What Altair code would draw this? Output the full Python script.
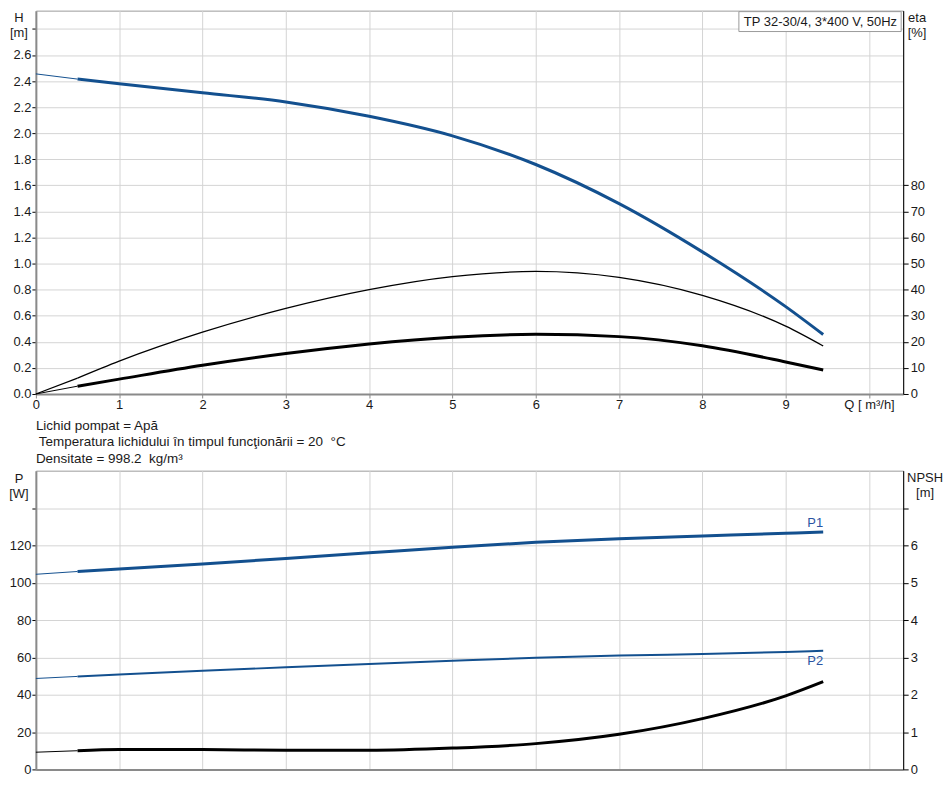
import altair as alt
import pandas as pd

# ---------------- data ----------------
Q = [0, 0.5, 1, 2, 3, 4, 5, 6, 7, 8, 9, 9.45]
H = [2.455, 2.415, 2.38, 2.31, 2.24, 2.13, 1.98, 1.76, 1.46, 1.09, 0.67, 0.456]
ETA_PUMP = [0, 6.1, 12.6, 23.7, 32.8, 40.0, 45.0, 47.0, 44.7, 37.8, 26.0, 18.4]
ETA_TOTAL = [0, 3.0, 5.7, 11.0, 15.5, 19.2, 21.8, 22.9, 22.0, 18.5, 12.3, 9.2]
P1 = [104.5, 106, 107.3, 110, 113, 116, 119, 121.6, 123.5, 125, 126.5, 127.1]
P2 = [48.7, 49.8, 50.8, 52.8, 54.7, 56.5, 58.2, 59.8, 61, 61.8, 62.9, 63.5]
NPSH = [0.46, 0.5, 0.53, 0.53, 0.51, 0.51, 0.57, 0.69, 0.94, 1.36, 1.97, 2.35]

Q_TICKS = list(range(0, 11))
H_TICKS = [round(0.2 * i, 1) for i in range(15)]
ETA_TICKS = list(range(0, 90, 10))
P_TICKS = list(range(0, 160, 20))
NPSH_TICKS = list(range(0, 8))

INFO_LINES = ["Lichid pompat = Apă",
              "Temperatura lichidului în timpul funcţionării = 20\u00a0 °C",
              "Densitate = 998.2\u00a0 kg/m³"]
PUMP_NAME = "TP 32-30/4, 3*400 V, 50Hz"

BLUE = "#13508f"
BLACK = "#000000"
LABEL = "#1a1a1a"
GRID = "#d4d4d4"
AXGRAY = "#8a8a8a"
FONT = "Liberation Sans"
FS = 13


def curve_rows(name, values, color, thick, thin_ext=True, thin=1.0):
    rows = []
    for q, v in zip(Q, values):
        if q <= 0.5:
            rows.append(dict(Q=q, v=v, seg=name + "_ext", col=color,
                             w=thin if thin_ext else thick))
        if q >= 0.5:
            rows.append(dict(Q=q, v=v, seg=name + "_main", col=color, w=thick))
    return rows


W, H_TOP, H_BOT = 871, 385, 300
x_scale = alt.Scale(domain=[0, 10.41], nice=False, zero=False)


def x_enc(labels=True):
    return alt.X("Q:Q", scale=x_scale, axis=alt.Axis(
        values=Q_TICKS, grid=True, gridColor=GRID, gridWidth=1,
        domainColor=AXGRAY, domainWidth=2,
        ticks=labels, tickColor=AXGRAY, tickSize=4,
        labels=labels, labelFlush=False, labelOverlap=False,
        labelExpr="datum.value == 10 ? 'Q [ m³/h]' : datum.label",
        labelFontSize=FS, labelColor=LABEL, labelPadding=1, title=None))


def line_layer(df, y_scale_dom, axis):
    return alt.Chart(df).mark_line(interpolate="monotone").encode(
        x=x_enc(),
        y=alt.Y("v:Q", scale=alt.Scale(domain=y_scale_dom, nice=False, zero=False), axis=axis),
        detail="seg:N",
        color=alt.Color("col:N", scale=None),
        strokeWidth=alt.StrokeWidth("w:Q", scale=None),
        order="Q:Q",
    )


def text_layer(txt, x, y, align="center", baseline="top", color=LABEL, size=FS):
    return alt.Chart(pd.DataFrame({"t": [txt]})).mark_text(
        align=align, baseline=baseline, fontSize=size, color=color, font=FONT
    ).encode(text="t:N", x=alt.value(x), y=alt.value(y))


def left_axis(values, hide_above, fmt=None):
    kw = dict(values=values, grid=True, gridColor=GRID, gridWidth=1,
              domainColor=AXGRAY, domainWidth=2, tickColor=BLACK, tickSize=4,
              labelFontSize=FS, labelColor=LABEL, labelPadding=1, title=None,
              labelExpr=f"datum.value > {hide_above} ? '' : datum.label")
    if fmt:
        kw["format"] = fmt
    return alt.Axis(**kw)


def right_axis(values, hide_above):
    return alt.Axis(orient="right", values=values, grid=False,
                    domainColor=BLACK, domainWidth=1, tickColor=BLACK, tickSize=5,
                    labelFontSize=FS, labelColor=LABEL, labelPadding=2, title=None,
                    labelExpr=f"datum.value > {hide_above} ? '' : datum.label")


# ---------------- top panel ----------------
h_df = pd.DataFrame(curve_rows("H", H, BLUE, 3))
eta_df = pd.DataFrame(curve_rows("E1", ETA_PUMP, BLACK, 1.3, thin_ext=False)
                      + curve_rows("E2", ETA_TOTAL, BLACK, 3))

h_layer = line_layer(h_df, [0, 2.94], left_axis(H_TICKS, 2.7, fmt=".1f"))
eta_layer = line_layer(eta_df, [0, 147], right_axis(ETA_TICKS, 85))

box = alt.Chart(pd.DataFrame({"t": [PUMP_NAME]})).mark_rect(
    fill="white", stroke="#9a9a9a", strokeWidth=1
).encode(x=alt.value(706), x2=alt.value(869), y=alt.value(1), y2=alt.value(21))

top = alt.layer(
    h_layer, eta_layer, box,
    text_layer(PUMP_NAME, 711, 11, align="left", baseline="middle"),
    text_layer("H", -17, 1), text_layer("[m]", -17, 16),
    text_layer("eta", 885, 1), text_layer("[%]", 885, 16),
    text_layer(INFO_LINES[0], 0, 417, align="left", baseline="middle", size=13.5),
    text_layer(INFO_LINES[1], 3, 433, align="left", baseline="middle", size=13.5),
    text_layer(INFO_LINES[2], 0, 450, align="left", baseline="middle", size=13.5),
).resolve_scale(y="independent").properties(width=W, height=H_TOP)

# ---------------- bottom panel ----------------
p_df = pd.DataFrame(curve_rows("P1", P1, BLUE, 3) + curve_rows("P2", P2, BLUE, 2))
npsh_df = pd.DataFrame(curve_rows("NPSH", NPSH, BLACK, 3))

p_lines = alt.Chart(p_df).mark_line(interpolate="monotone").encode(
    x=x_enc(labels=False),
    y=alt.Y("v:Q", scale=alt.Scale(domain=[0, 160], nice=False), axis=left_axis(P_TICKS, 130)),
    detail="seg:N", color=alt.Color("col:N", scale=None),
    strokeWidth=alt.StrokeWidth("w:Q", scale=None), order="Q:Q")

lab_df = pd.DataFrame({"Q": [Q[-1], Q[-1]], "v": [P1[-1], P2[-1]], "t": ["P1", "P2"]})
p1_lab = alt.Chart(lab_df.iloc[[0]]).mark_text(
    align="right", baseline="middle", dy=-9, fontSize=FS, color="#2a55a3", font=FONT
).encode(x=x_enc(labels=False), y=alt.Y("v:Q"), text="t:N")
p2_lab = alt.Chart(lab_df.iloc[[1]]).mark_text(
    align="right", baseline="middle", dy=10, fontSize=FS, color="#2a55a3", font=FONT
).encode(x=x_enc(labels=False), y=alt.Y("v:Q"), text="t:N")

p_group = alt.layer(p_lines, p1_lab, p2_lab)

npsh_layer = alt.Chart(npsh_df).mark_line(interpolate="monotone").encode(
    x=x_enc(labels=False),
    y=alt.Y("v:Q", scale=alt.Scale(domain=[0, 8], nice=False), axis=right_axis(NPSH_TICKS, 6.5)),
    detail="seg:N", color=alt.Color("col:N", scale=None),
    strokeWidth=alt.StrokeWidth("w:Q", scale=None), order="Q:Q")

bottom = alt.layer(
    p_group, npsh_layer,
    text_layer("P", -17, 2), text_layer("[W]", -17, 17),
    text_layer("NPSH", 893, 1), text_layer("[m]", 893, 16),
).resolve_scale(y="independent").properties(width=W, height=H_BOT)

chart = alt.vconcat(top, bottom, spacing=4).properties(padding=0).configure(
    font=FONT
).configure_view(stroke="#9a9a9a", strokeWidth=1).configure_axis(
    labelFont=FONT
)

chart.save("out.html", embed_options={"renderer": "svg", "actions": False})
